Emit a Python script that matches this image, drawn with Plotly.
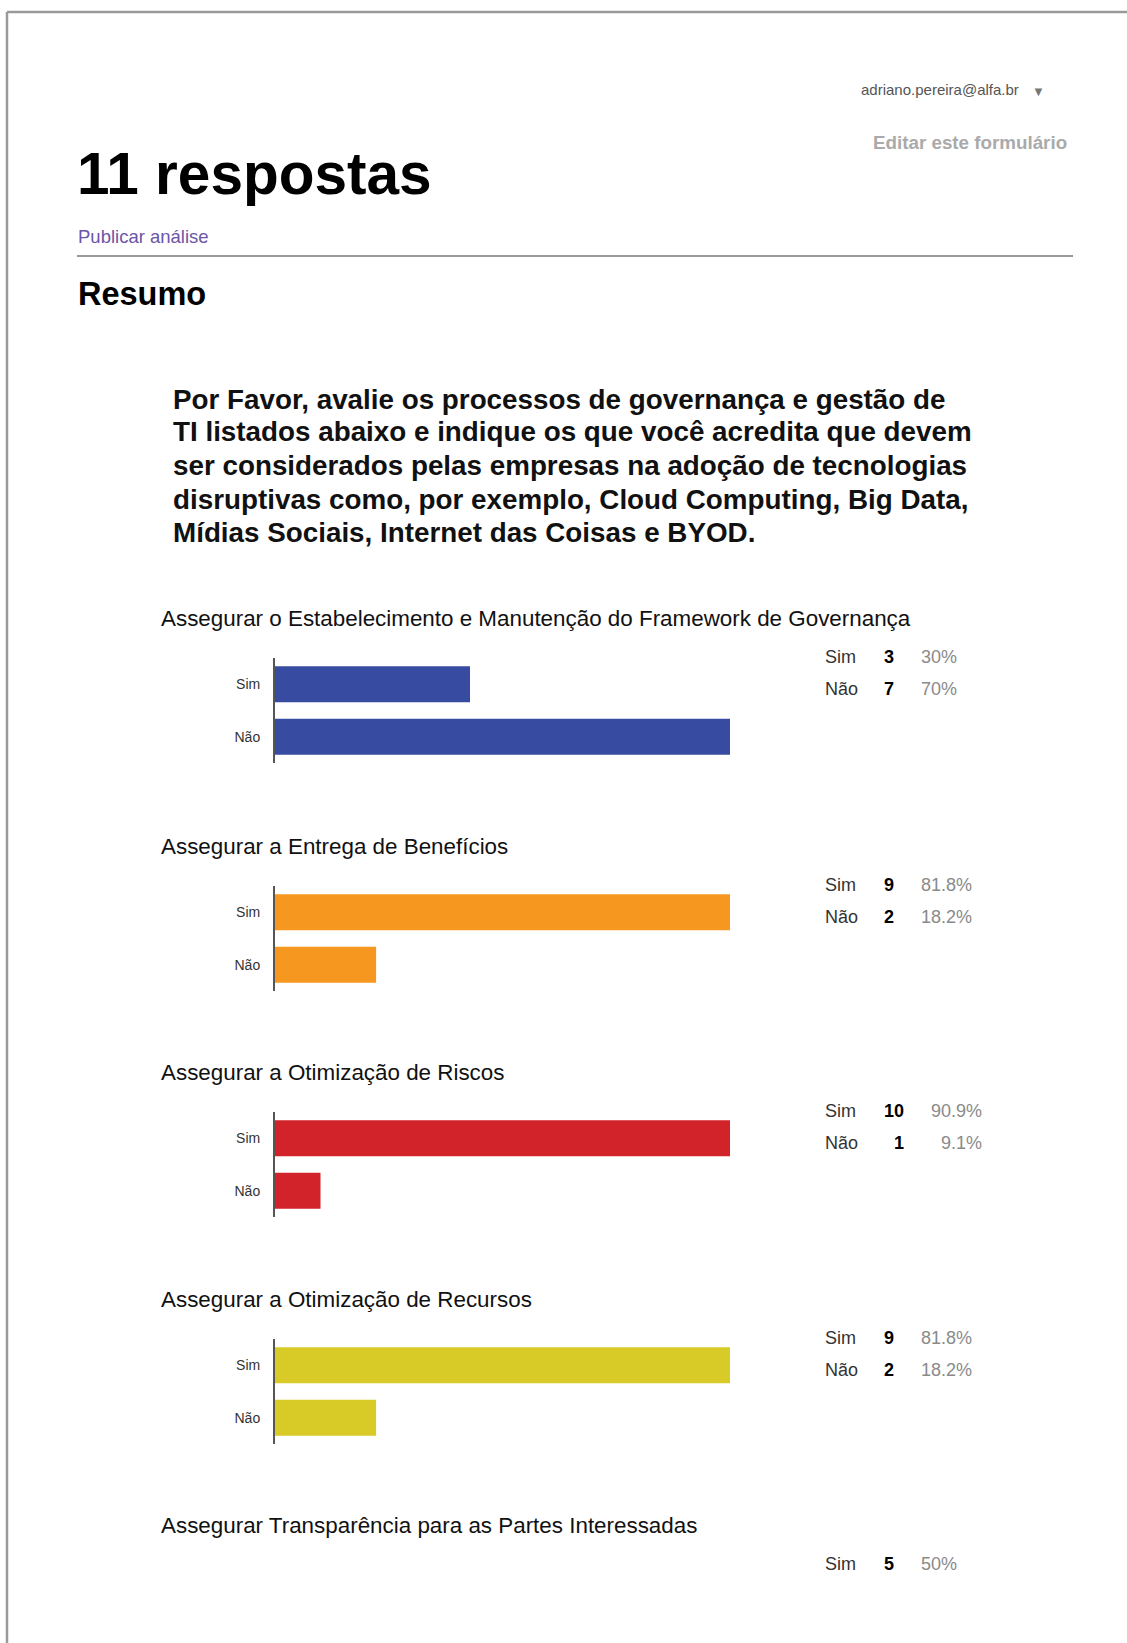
import plotly.graph_objects as go

# ---------------- data ----------------
section_titles = [
    "Assegurar o Estabelecimento e Manutenção do Framework de Governança",
    "Assegurar a Entrega de Benefícios",
    "Assegurar a Otimização de Riscos",
    "Assegurar a Otimização de Recursos",
    "Assegurar Transparência para as Partes Interessadas",
]
categories = ["Sim", "Não"]
sim_counts = [3, 9, 10, 9, 5]
nao_counts = [7, 2, 1, 2]
sim_pct = ["30%", "81.8%", "90.9%", "81.8%", "50%"]
nao_pct = ["70%", "18.2%", "9.1%", "18.2%"]
bar_colors = ["#374ba0", "#f6971f", "#d2222a", "#d8ca27"]

question_lines = [
    "Por Favor, avalie os processos de governança e gestão de",
    "TI listados abaixo e indique os que você acredita que devem",
    "ser considerados pelas empresas na adoção de tecnologias",
    "disruptivas como, por exemplo, Cloud Computing, Big Data,",
    "Mídias Sociais, Internet das Coisas e BYOD.",
]

# ---------------- layout helpers ----------------
W, H = 1127, 1643
FONT = "Liberation Sans, Arial, sans-serif"


def px(x):
    return x / W


def py(y):
    return 1 - y / H


def text_w(s, size):
    widths = {".": 0.278, "%": 0.889}
    return sum(widths.get(c, 0.556) for c in s) * size


fig = go.Figure()
annotations = []
shapes = []


def add_text(x, y, text, size, color="#000", bold=False, xanchor="left"):
    t = f"<b>{text}</b>" if bold else text
    annotations.append(dict(
        x=px(x), y=py(y), xref="paper", yref="paper", text=t, showarrow=False,
        xanchor=xanchor, yanchor="middle",
        font=dict(family=FONT, size=size, color=color),
    ))


# page border
shapes.append(dict(type="line", xref="paper", yref="paper", x0=px(7), x1=1,
                   y0=py(12), y1=py(12), line=dict(color="#9a9a9a", width=2.5)))
shapes.append(dict(type="line", xref="paper", yref="paper", x0=px(7), x1=px(7),
                   y0=py(12), y1=0, line=dict(color="#9a9a9a", width=2.5)))
# rule under header
shapes.append(dict(type="line", xref="paper", yref="paper", x0=px(77), x1=px(1073),
                   y0=py(256), y1=py(256), line=dict(color="#999999", width=2)))

# header texts
add_text(859, 90, "adriano.pereira@alfa.br", 15, "#555")
add_text(1030, 91, "▼", 13, "#777")
add_text(871, 143, "Editar este formulário", 18.8, "#aaaaaa", bold=True)
add_text(75, 174, "11 respostas", 58.5, "#000", bold=True)
add_text(76, 237, "Publicar análise", 18.5, "#6c55a5")
add_text(76, 294, "Resumo", 32.5, "#000", bold=True)

q_y = [399, 432, 466, 500, 533]
for line, y in zip(question_lines, q_y):
    add_text(171, y, line, 27.8, "#111", bold=True)

title_y = [618, 846, 1072, 1299, 1525]
AX_X0, AX_X1 = 275, 730

for i, title in enumerate(section_titles):
    ty = title_y[i]
    add_text(159, ty, title, 22.4, "#111")

    # stats table
    rows = [("Sim", sim_counts[i], sim_pct[i])]
    if i < len(nao_counts):
        rows.append(("Não", nao_counts[i], nao_pct[i]))
    max_digits = max(len(str(r[1])) for r in rows)
    count_right = 896 + 10 * (max_digits - 1)
    pct_left = count_right + 27
    pct_right = pct_left + max(text_w(r[2], 18) for r in rows)
    for j, (lab, cnt, pct) in enumerate(rows):
        ry = ty + 39 + 32 * j
        add_text(823, ry, lab, 18, "#333")
        add_text(count_right, ry, str(cnt), 18, "#000", bold=True, xanchor="right")
        add_text(pct_right, ry, pct, 18, "#8a8a8a", xanchor="right")

    # bar chart (first four sections visible)
    if i < len(nao_counts):
        top = ty + 40
        n = i + 1
        xa = "x" if n == 1 else f"x{n}"
        ya = "y" if n == 1 else f"y{n}"
        vals = [sim_counts[i], nao_counts[i]]
        fig.add_trace(go.Bar(
            x=vals, y=categories, orientation="h",
            marker=dict(color=bar_colors[i], line=dict(width=0)),
            width=0.686, xaxis=xa, yaxis=ya, showlegend=False, hoverinfo="x+y",
        ))
        fig.update_layout(**{
            f"xaxis{'' if n == 1 else n}": dict(
                domain=[px(AX_X0), px(AX_X1)], range=[0, max(vals)],
                visible=False, anchor=ya, fixedrange=True,
            ),
            f"yaxis{'' if n == 1 else n}": dict(
                domain=[py(top + 105), py(top)], anchor=xa, type="category",
                categoryorder="array", categoryarray=categories,
                range=[1.5, -0.5], showline=True, linecolor="#555",
                linewidth=2, showgrid=False, zeroline=False, ticks="",
                ticklabelstandoff=10,
                tickfont=dict(family=FONT, size=14, color="#333"),
                fixedrange=True,
            ),
        })

fig.update_layout(
    width=W, height=H, margin=dict(l=0, r=0, t=0, b=0),
    paper_bgcolor="white", plot_bgcolor="white",
    annotations=annotations, shapes=shapes, showlegend=False,
)

fig.write_html("out.html")
